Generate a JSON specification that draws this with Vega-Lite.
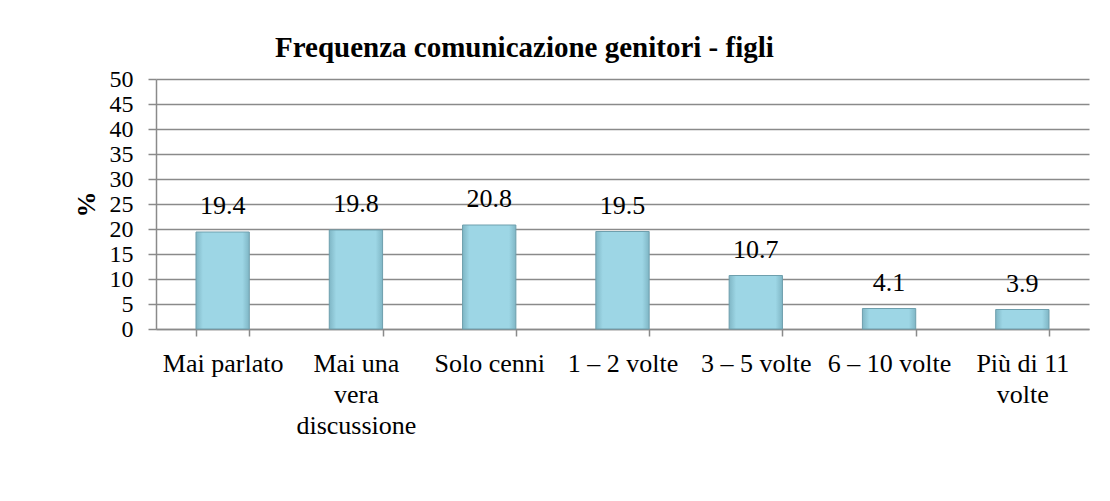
{
  "$schema": "https://vega.github.io/schema/vega-lite/v6.json",
  "width": 933,
  "height": 250,
  "autosize": {"type": "none"},
  "padding": {"left": 156, "top": 79, "right": 21, "bottom": 172},
  "background": "white",
  "title": {
    "text": "Frequenza comunicazione genitori - figli",
    "font": "Liberation Serif",
    "fontSize": 29,
    "fontWeight": "bold",
    "color": "black",
    "anchor": "start",
    "frame": "group",
    "dx": 119,
    "baseline": "alphabetic",
    "offset": -19
  },
  "data": {
    "values": [
      {"categoria": "Mai parlato", "percentuale": 19.4},
      {"categoria": "Mai una vera discussione", "percentuale": 19.8},
      {"categoria": "Solo cenni", "percentuale": 20.8},
      {"categoria": "1 – 2 volte", "percentuale": 19.5},
      {"categoria": "3 – 5 volte", "percentuale": 10.7},
      {"categoria": "6 – 10 volte", "percentuale": 4.1},
      {"categoria": "Più di 11 volte", "percentuale": 3.9}
    ]
  },
  "encoding": {
    "x": {
      "field": "categoria",
      "type": "nominal",
      "sort": null,
      "scale": {"paddingInner": 0.6, "paddingOuter": 0.3},
      "axis": {
        "title": null,
        "labelAngle": 0,
        "labelFont": "Liberation Serif",
        "labelFontSize": 26,
        "labelColor": "black",
        "labelLineHeight": 31,
        "labelPadding": 14,
        "labelBaseline": "top",
        "labelLimit": 0,
        "labelOverlap": false,
        "tickBand": "extent",
        "tickSize": 7,
        "tickColor": "#8a8a8a",
        "tickWidth": 1.5,
        "domainColor": "#8a8a8a",
        "domainWidth": 1.5,
        "grid": false,
        "labelExpr": "datum.label == 'Mai una vera discussione' ? ['Mai una', 'vera', 'discussione'] : datum.label == 'Più di 11 volte' ? ['Più di 11', 'volte'] : datum.label"
      }
    },
    "y": {
      "field": "percentuale",
      "type": "quantitative",
      "scale": {"domain": [0, 50], "nice": false},
      "axis": {
        "title": "%",
        "titleFont": "Liberation Serif",
        "titleFontSize": 26,
        "titleFontWeight": "bold",
        "titleColor": "black",
        "titlePadding": 10,
        "values": [0, 5, 10, 15, 20, 25, 30, 35, 40, 45, 50],
        "labelOverlap": false,
        "labelFont": "Liberation Serif",
        "labelFontSize": 24,
        "labelColor": "black",
        "labelPadding": 15,
        "tickSize": 8,
        "tickColor": "#8a8a8a",
        "tickWidth": 1.5,
        "domainColor": "#8a8a8a",
        "domainWidth": 1.5,
        "grid": true,
        "gridColor": "#8a8a8a",
        "gridWidth": 1.5
      }
    }
  },
  "layer": [
    {
      "mark": {
        "type": "bar",
        "stroke": "#6e9fad",
        "strokeWidth": 1,
        "color": {
          "gradient": "linear",
          "x1": 0, "y1": 0, "x2": 1, "y2": 0,
          "stops": [
            {"offset": 0, "color": "#7fb6c5"},
            {"offset": 0.13, "color": "#9dd6e5"},
            {"offset": 0.87, "color": "#9dd6e5"},
            {"offset": 1, "color": "#7fb6c5"}
          ]
        }
      }
    },
    {
      "mark": {
        "type": "text",
        "font": "Liberation Serif",
        "fontSize": 26,
        "color": "black",
        "baseline": "alphabetic",
        "dy": -18
      },
      "encoding": {
        "text": {"field": "percentuale", "type": "quantitative", "format": ".1f"}
      }
    }
  ],
  "config": {
    "view": {"stroke": null}
  }
}
